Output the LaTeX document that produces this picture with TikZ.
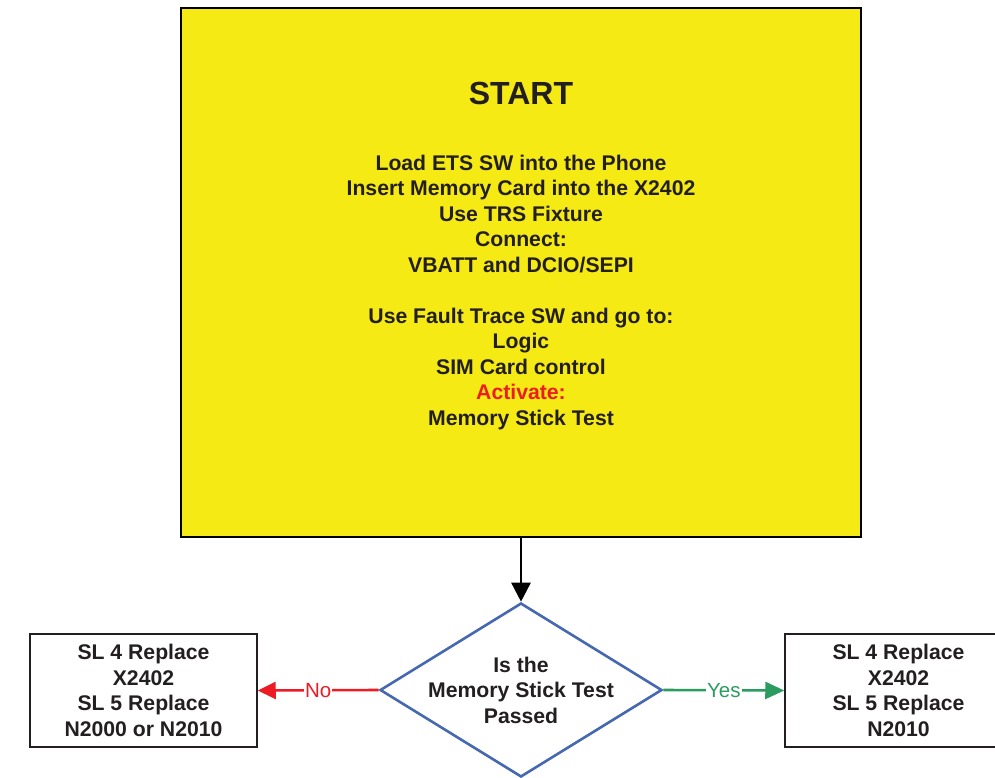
\documentclass[tikz,border=0pt]{standalone}
\usepackage{fontspec}
\setmainfont{Liberation Sans}
\usetikzlibrary{shapes.geometric,arrows.meta}
\definecolor{startyellow}{RGB}{245,234,20}
\definecolor{txtdark}{RGB}{35,31,32}
\definecolor{nored}{RGB}{237,28,36}
\definecolor{yesgreen}{RGB}{43,156,95}
\definecolor{diablue}{RGB}{70,104,176}
\tikzset{
  startbox/.style={draw=black, line width=1.8pt, fill=startyellow, minimum width=680pt, minimum height=529pt, inner sep=0pt},
  endbox/.style={draw=txtdark, line width=1.5pt, fill=white, minimum width=227pt, minimum height=113pt, inner sep=0pt},
  diabox/.style={diamond, draw=diablue, line width=2.6pt, fill=white, minimum width=282pt, minimum height=174pt, inner sep=0pt},
  boldtxt/.style={font=\fontsize{21.2}{25.5}\selectfont\bfseries, text=txtdark, align=center, inner sep=0pt},
  bigtxt/.style={font=\fontsize{32}{38}\selectfont\bfseries, text=txtdark, inner sep=0pt},
  blackarrow/.style={draw=black, line width=2.6pt, -{Triangle[length=19pt,width=19pt]}},
  noarrow/.style={draw=nored, line width=2.6pt, -{Triangle[length=18pt,width=17pt]}},
  yesarrow/.style={draw=yesgreen, line width=2.6pt, -{Triangle[length=19pt,width=17pt]}},
  lbl/.style={font=\fontsize{20.5}{24}\selectfont, fill=white, inner sep=1pt}
}
\begin{document}
\begin{tikzpicture}[x=1pt,y=-1pt]
\useasboundingbox (0,0) rectangle (995,778);
\node[startbox] (start) at (521,272.5) {};
\node[bigtxt] (starttitle) at (521,93) {START};
\node[boldtxt, anchor=north] (starttext) at (521,154.5) {Load ETS SW into the Phone\\
Insert Memory Card into the X2402\\
Use TRS Fixture\\
Connect:\\
VBATT and DCIO/SEPI\\[25.5pt]
Use Fault Trace SW and go to:\\
Logic\\
SIM Card control\\
\textcolor{nored}{Activate:}\\
Memory Stick Test};
\node[diabox] (dia) at (521,690) {};
\node[boldtxt] (diatext) at (521,690) {Is the\\Memory Stick Test\\Passed};
\node[endbox, boldtxt] (left) at (143.5,690.5) {SL 4 Replace\\X2402\\SL 5 Replace\\N2000 or N2010};
\node[endbox, boldtxt] (right) at (898.5,690.5) {SL 4 Replace\\X2402\\SL 5 Replace\\N2010};
\draw[blackarrow] (start.south) -- (dia.north);
\draw[noarrow] (dia.west) -- node[lbl, text=nored] {No} (left.east);
\draw[yesarrow] (dia.east) -- node[lbl, text=yesgreen] {Yes} (right.west);
\end{tikzpicture}
\end{document}
